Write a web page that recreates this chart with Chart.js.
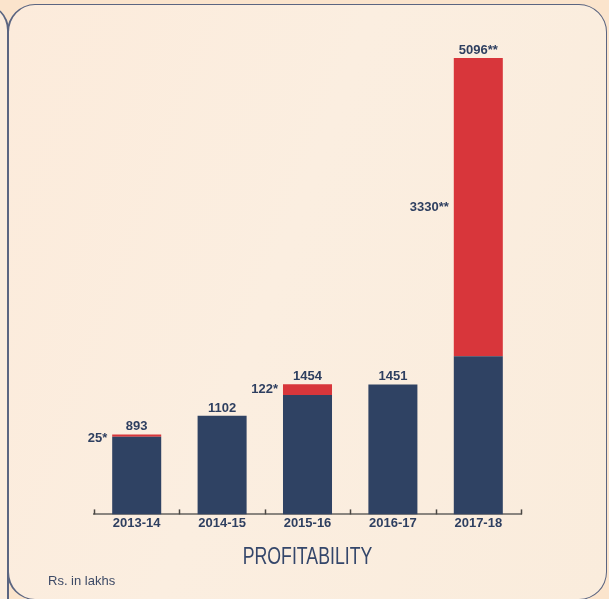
<!DOCTYPE html>
<html>
<head>
<meta charset="utf-8">
<script src="https://cdn.jsdelivr.net/npm/chart.js@4.4.0/dist/chart.umd.min.js"></script>
<style>
  html, body { margin: 0; padding: 0; overflow: hidden; }
  body { width: 609px; height: 599px; background: #fbe4cc; position: relative; }
  .panel { position: absolute; box-sizing: border-box; background: #fbecdd; border: 1.5px solid #5b6581; }
  #prev { left: -400px; top: 4px; width: 409px; height: 700px; border-radius: 0 26px 0 0; border-right-width: 2px; }
  #main { left: 7px; top: 4px; width: 600px; height: 596px; border-radius: 28px; border-left-width: 2px;
          background: linear-gradient(110deg, #fcebdb 0%, #fbeee0 45%, #faecdc 100%); }
  #chart { position: absolute; left: 0; top: 0; }
</style>
</head>
<body>
<div class="panel" id="prev"></div>
<div class="panel" id="main"></div>
<canvas id="chart" width="609" height="599"></canvas>
<script>
const years = ["2013-14", "2014-15", "2015-16", "2016-17", "2017-18"];
const baseProfit = [868, 1102, 1332, 1451, 1766];
const extraProfit = [25, 0, 122, 0, 3330];
const extraMarks = ["*", "", "*", "", "**"];
const totalMarks = ["", "", "", "", "**"];

const navy = "#2f4263";
const red = "#d8363b";
const textColor = "#2e3f60";

Chart.defaults.font.family = "'Liberation Sans', Arial, sans-serif";

const valueLabels = {
  id: "valueLabels",
  afterDatasetsDraw(chart) {
    const ctx = chart.ctx;
    const base = chart.getDatasetMeta(0).data;
    const extra = chart.getDatasetMeta(1).data;
    ctx.save();
    ctx.font = "bold 13px 'Liberation Sans', Arial, sans-serif";
    ctx.fillStyle = textColor;
    years.forEach((y, i) => {
      const top = extraProfit[i] > 0 ? extra[i] : base[i];
      ctx.textAlign = "center";
      ctx.textBaseline = "alphabetic";
      ctx.fillText(String(baseProfit[i] + extraProfit[i]) + totalMarks[i], top.x, top.y - 4);
      if (extraProfit[i] > 0) {
        const bar = extra[i];
        const mid = (bar.y + bar.base) / 2;
        ctx.textAlign = "right";
        ctx.textBaseline = "middle";
        ctx.fillText(extraProfit[i] + extraMarks[i], bar.x - bar.width / 2 - 5, Math.max(mid, bar.y + 4));
      }
    });

    // small upward tick marks on the category axis
    const xs = chart.scales.x;
    const step = (xs.right - xs.left) / years.length;
    ctx.strokeStyle = "#4a4743";
    ctx.lineWidth = 1.5;
    for (let i = 0; i <= years.length; i++) {
      const x = Math.round(xs.left + i * step) + 0.5;
      ctx.beginPath();
      ctx.moveTo(x, xs.top);
      ctx.lineTo(x, xs.top - 5);
      ctx.stroke();
    }

    // title, narrow and light like the original
    ctx.fillStyle = "#34466a";
    ctx.font = "23px 'Liberation Sans', Arial, sans-serif";
    ctx.textAlign = "center";
    ctx.textBaseline = "middle";
    ctx.save();
    ctx.translate((xs.left + xs.right) / 2, 558);
    ctx.scale(0.77, 1);
    ctx.fillText("PROFITABILITY", 0, 0);
    ctx.restore();

    ctx.font = "13px 'Liberation Sans', Arial, sans-serif";
    ctx.fillStyle = "#3d4a66";
    ctx.textAlign = "left";
    ctx.fillText("Rs. in lakhs", 48, 581);
    ctx.restore();
  }
};

new Chart(document.getElementById("chart"), {
  type: "bar",
  data: {
    labels: years,
    datasets: [
      { data: baseProfit, backgroundColor: navy },
      { data: extraProfit, backgroundColor: red }
    ]
  },
  options: {
    responsive: false,
    animation: false,
    layout: { padding: { left: 94, right: 88, top: 58, bottom: 67 } },
    datasets: { bar: { barPercentage: 0.574, categoryPercentage: 1 } },
    scales: {
      x: {
        stacked: true,
        grid: { display: false, drawTicks: false, tickLength: 0 },
        border: { display: true, color: "#8a857f", width: 2 },
        ticks: { color: textColor, font: { size: 13, weight: "bold" }, padding: 1 }
      },
      y: { stacked: true, display: false, min: 0, max: 5096 }
    },
    plugins: {
      legend: { display: false },
      tooltip: { enabled: false },
      title: { display: false }
    }
  },
  plugins: [valueLabels]
});
</script>
</body>
</html>
